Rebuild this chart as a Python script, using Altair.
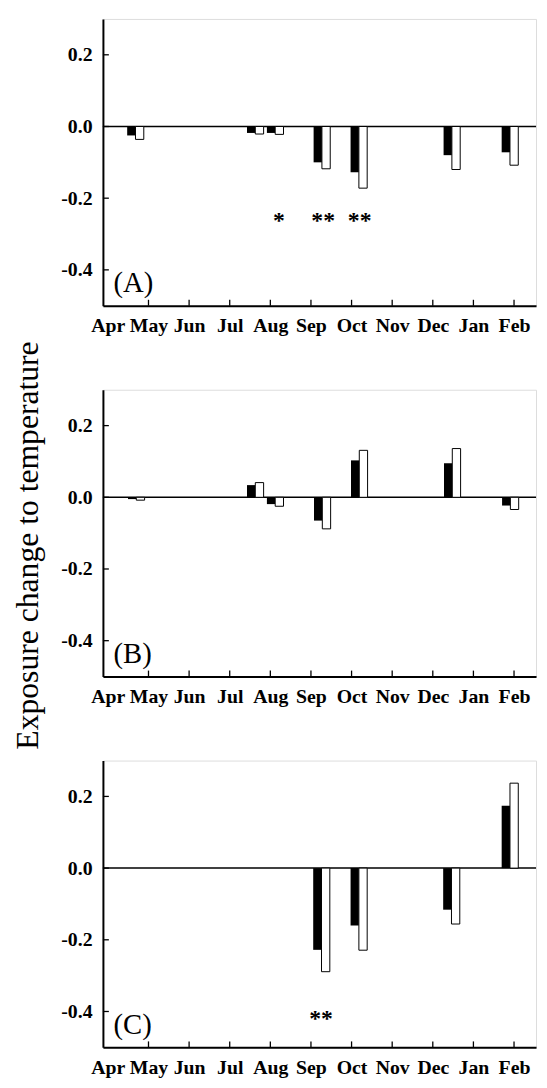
import altair as alt
import pandas as pd

# ---------------- data ----------------
months = ["Apr", "May", "Jun", "Jul", "Aug", "Sep", "Oct", "Nov", "Dec", "Jan", "Feb"]
y_ticks = [-0.4, -0.2, 0.0, 0.2]

# positions of bar pairs (month index, Apr = 0)
pos_A = [0.68, 3.63, 4.12, 5.27, 6.18, 8.47, 9.90]
a_black = [-0.025, -0.018, -0.018, -0.100, -0.128, -0.080, -0.072]
a_white = [-0.036, -0.021, -0.022, -0.118, -0.172, -0.120, -0.108]

pos_B = [0.70, 3.63, 4.12, 5.28, 6.19, 8.48, 9.91]
b_black = [-0.005, 0.034, -0.019, -0.065, 0.103, 0.095, -0.023]
b_white = [-0.008, 0.041, -0.025, -0.088, 0.131, 0.136, -0.034]

pos_C = [5.26, 6.18, 8.46, 9.90]
c_black = [-0.228, -0.160, -0.116, 0.174]
c_white = [-0.289, -0.229, -0.156, 0.237]

stars_A_pos = [4.21, 5.30, 6.20]
stars_A_txt = ["*", "**", "**"]
stars_A_y = [-0.252, -0.252, -0.252]

stars_C_pos = [5.25]
stars_C_txt = ["**"]
stars_C_y = [-0.41]

panel_labels = ["(A)", "(B)", "(C)"]
y_title = "Exposure change to temperature"

# ---------------- styling ----------------
FONT = "Liberation Serif"
W, H = 438, 290
xscale = alt.Scale(domain=[0, 10.42], nice=False, zero=False)
yscale = alt.Scale(domain=[-0.5, 0.3], nice=False, zero=False)
month_js = "[" + ",".join("'%s'" % m for m in months) + "]"


def panel(label, pos, black, white, spos, stxt, sy, with_title=False):
    df = pd.DataFrame({"pos": pos, "black": black, "white": white})
    xaxis = alt.Axis(
        values=list(range(len(months))),
        labelExpr=month_js + "[round(datum.value)]",
        ticks=False, grid=False, title=None,
        domain=True, domainColor="black", domainWidth=2,
        labelFont=FONT, labelFontSize=20, labelFontWeight="bold",
        labelColor="black", labelPadding=10,
        labelFlush=False, labelOverlap=False,
    )
    yargs = dict(
        values=y_ticks,
        labelExpr="replace(format(datum.value, '.1f'), '\u2212', '-')",
        ticks=False, grid=False,
        domain=True, domainColor="black", domainWidth=2,
        labelFont=FONT, labelFontSize=20, labelFontWeight="bold",
        labelColor="black", labelPadding=11,
    )
    if with_title:
        yargs.update(
            title=y_title, titleFont=FONT, titleFontSize=32,
            titleFontWeight="normal", titleColor="black",
            titlePadding=16, titleY=H / 2 + 12,
        )
    else:
        yargs.update(title=None)
    yaxis = alt.Axis(**yargs)

    base = alt.Chart(df)
    black_bars = base.mark_bar(size=8.4, xOffset=-4.2, color="black").encode(
        x=alt.X("pos:Q", scale=xscale, axis=xaxis),
        y=alt.Y("black:Q", scale=yscale, axis=yaxis),
        y2=alt.datum(0),
    )
    white_bars = base.mark_bar(
        size=8.4, xOffset=4.2, fill="white", stroke="black", strokeWidth=1
    ).encode(
        x=alt.X("pos:Q", scale=xscale),
        y=alt.Y("white:Q", scale=yscale),
        y2=alt.datum(0),
    )
    zero = alt.Chart(pd.DataFrame({"z": [0.0]})).mark_rule(
        color="black", strokeWidth=1.5
    ).encode(y=alt.Y("z:Q", scale=yscale))

    ytk = alt.Chart(pd.DataFrame({"v": y_ticks})).mark_rule(
        color="black", strokeWidth=1.3
    ).encode(y=alt.Y("v:Q", scale=yscale), x=alt.value(0), x2=alt.value(6))
    xtk = alt.Chart(pd.DataFrame({"m": list(range(1, len(months)))})).mark_rule(
        color="black", strokeWidth=1.3
    ).encode(x=alt.X("m:Q", scale=xscale), y=alt.value(H), y2=alt.value(H - 6))

    layers = [zero, black_bars, white_bars, ytk, xtk]

    if spos:
        sdf = pd.DataFrame({"p": spos, "t": stxt, "y": sy})
        stars = alt.Chart(sdf).mark_text(
            font=FONT, fontSize=24, fontWeight="bold", color="black",
            baseline="alphabetic", dy=11,
        ).encode(x=alt.X("p:Q", scale=xscale), y=alt.Y("y:Q", scale=yscale), text="t:N")
        layers.append(stars)

    lab = alt.Chart(pd.DataFrame({"t": [label]})).mark_text(
        font=FONT, fontSize=29, color="black", align="left", baseline="alphabetic"
    ).encode(
        x=alt.datum(0.14, scale=xscale),
        y=alt.datum(-0.463, scale=yscale),
        text="t:N",
    )
    layers.append(lab)

    return alt.layer(*layers).properties(width=W, height=H)


pA = panel(panel_labels[0], pos_A, a_black, a_white, stars_A_pos, stars_A_txt, stars_A_y)
pB = panel(panel_labels[1], pos_B, b_black, b_white, [], [], [], with_title=True)
pC = panel(panel_labels[2], pos_C, c_black, c_white, stars_C_pos, stars_C_txt, stars_C_y)

chart = alt.vconcat(pA, pB, pC, spacing=85, bounds="flush").properties(
    padding={"left": 3, "top": 4, "right": 1, "bottom": 0}
).configure_view(stroke="black", strokeWidth=1.5).configure(background="white")

chart.save("out.html", embed_options={"renderer": "svg", "actions": False})
